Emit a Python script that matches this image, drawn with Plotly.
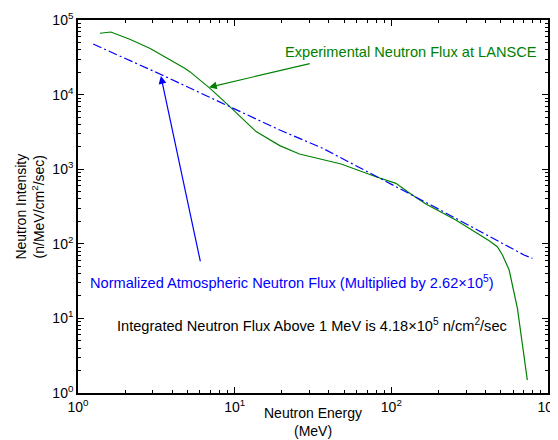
import plotly.graph_objects as go

# Experimental neutron flux at LANSCE (green)
exp_energy = [1.38, 1.62, 2.14, 2.87, 4.8, 5.17, 6.93, 8.85, 13.7, 19.4, 25.9, 47.8, 79.8, 107, 127, 166, 258, 421, 475, 512, 565, 638, 738]
exp_flux = [66400, 69000, 55100, 41800, 22500, 20300, 12200, 7640, 3190, 2070, 1600, 1175, 792, 646, 499, 341, 208, 110, 91.4, 70.8, 44.5, 13.6, 1.49]

# Normalized atmospheric neutron flux (blue, dash-dot)
atm_energy = [1.25, 3.33, 9.3, 19.4, 36.5, 97, 179, 703, 795]
atm_flux = [47600, 18900, 6890, 3350, 1905, 653, 331, 70.8, 63.8]

x_major = [1, 10, 100, 1000]
x_labels = ["10<sup>0</sup>", "10<sup>1</sup>", "10<sup>2</sup>", "10<sup>3</sup>"]
y_major = [1, 10, 100, 1000, 10000, 100000]
y_labels = ["10<sup>0</sup>", "10<sup>1</sup>", "10<sup>2</sup>", "10<sup>3</sup>", "10<sup>4</sup>", "10<sup>5</sup>"]

x_minor = [m * 10 ** k for k in range(0, 3) for m in range(2, 10)]
y_minor = [m * 10 ** k for k in range(0, 5) for m in range(2, 10)]

GREEN = "#008000"
BLUE = "#0000FF"
FONT = "Liberation Sans, Arial, sans-serif"
ANN_SIZE = 14.6

fig = go.Figure()
fig.add_trace(go.Scatter(x=exp_energy, y=exp_flux, mode="lines",
                         line=dict(color=GREEN, width=1.2), showlegend=False))
fig.add_trace(go.Scatter(x=atm_energy, y=atm_flux, mode="lines",
                         line=dict(color=BLUE, width=1.2, dash="9px,3px,2px,3px"), showlegend=False))

axis_common = dict(
    showline=True, linecolor="black", linewidth=1.6, mirror="ticks",
    ticks="inside", ticklen=6, tickwidth=1, tickcolor="black",
    showgrid=False, zeroline=False, automargin=False,
    ticklabeloverflow="allow",
    tickfont=dict(family=FONT, size=14, color="black"),
)

fig.update_xaxes(type="log", range=[0, 3], tickmode="array", tickvals=x_major, ticktext=x_labels,
                 minor=dict(tickmode="array", tickvals=x_minor, ticks="inside", ticklen=3,
                            tickcolor="black", showgrid=False),
                 **axis_common)
fig.update_yaxes(type="log", range=[0, 5], tickmode="array", tickvals=y_major, ticktext=y_labels,
                 minor=dict(tickmode="array", tickvals=y_minor, ticks="inside", ticklen=3,
                            tickcolor="black", showgrid=False),
                 **axis_common)

annotations = [
    # green label + arrow
    dict(x=1.306, y=4.571, xref="x", yref="y", text="Experimental Neutron Flux at LANSCE",
         showarrow=False, xanchor="left", yanchor="middle",
         font=dict(family=FONT, size=ANN_SIZE, color=GREEN)),
    dict(x=0.836, y=4.098, ax=1.489, ay=4.420, xref="x", yref="y", axref="x", ayref="y",
         text="", showarrow=True, arrowhead=2, arrowsize=1.3, arrowwidth=1.2, arrowcolor=GREEN),
    # blue label + arrow
    dict(x=0.064, y=1.488, xref="x", yref="y",
         text="Normalized Atmospheric Neutron Flux (Multiplied by 2.62×10<sup>5</sup>)",
         showarrow=False, xanchor="left", yanchor="middle",
         font=dict(family=FONT, size=ANN_SIZE, color=BLUE)),
    dict(x=0.529, y=4.249, ax=0.783, ay=1.743, xref="x", yref="y", axref="x", ayref="y",
         text="", showarrow=True, arrowhead=2, arrowsize=1.3, arrowwidth=1.2, arrowcolor=BLUE),
    # black label
    dict(x=0.236, y=0.912, xref="x", yref="y",
         text="Integrated Neutron Flux Above 1 MeV is 4.18×10<sup>5</sup> n/cm<sup>2</sup>/sec",
         showarrow=False, xanchor="left", yanchor="middle",
         font=dict(family=FONT, size=ANN_SIZE, color="black")),
    # axis titles
    dict(x=0.5, y=-0.028, xref="paper", yref="paper", text="Neutron Energy<br>(MeV)",
         showarrow=False, xanchor="center", yanchor="top",
         font=dict(family=FONT, size=14, color="black")),
    dict(x=-0.104, y=0.5, xref="paper", yref="paper",
         text="Neutron Intensity<br>(n/MeV/cm<sup>2</sup>/sec)", textangle=-90,
         showarrow=False, xanchor="center", yanchor="middle",
         font=dict(family=FONT, size=14, color="black")),
]

# page body has an 8px margin, so the figure is sized to fit the 558x440 window
fig.update_layout(
    width=550, height=432,
    margin=dict(l=70, r=10, t=12, b=47),
    plot_bgcolor="white", paper_bgcolor="white",
    annotations=annotations,
    showlegend=False,
)

fig.write_html("out.html")
